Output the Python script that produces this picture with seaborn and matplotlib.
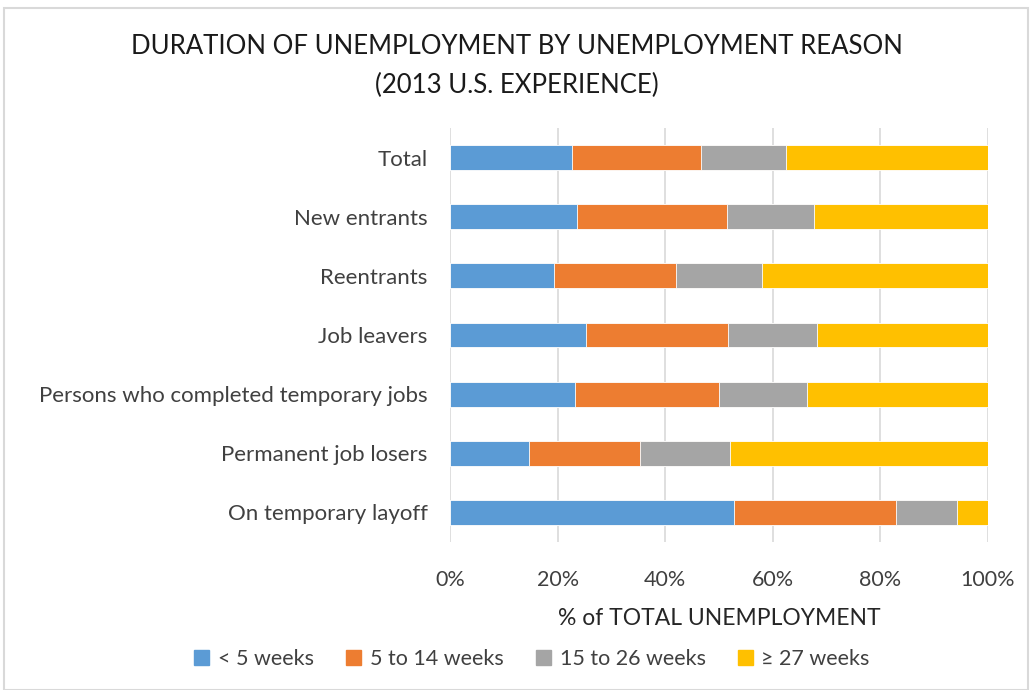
import matplotlib
matplotlib.use("Agg")
import matplotlib.pyplot as plt
import matplotlib.patches as mpatches
from matplotlib.ticker import FuncFormatter
import seaborn as sns
import pandas as pd
import numpy as np

# Reasons for unemployment (top to bottom)
reasons = [
    "Total",
    "New entrants",
    "Reentrants",
    "Job leavers",
    "Persons who completed temporary jobs",
    "Permanent job losers",
    "On temporary layoff",
]

# Share of unemployed (%) by duration bucket
under_5 = [22.6, 23.6, 19.4, 25.3, 23.3, 14.7, 52.7]
w5_14 = [24.0, 27.9, 22.7, 26.4, 26.7, 20.6, 30.2]
w15_26 = [15.9, 16.1, 15.8, 16.6, 16.4, 16.7, 11.4]
w27_plus = [37.5, 32.4, 42.1, 31.7, 33.6, 48.0, 5.7]

series_names = ["< 5 weeks", "5 to 14 weeks", "15 to 26 weeks", "\u2265 27 weeks"]
colors = ["#5B9BD5", "#ED7D31", "#A5A5A5", "#FFC000"]

sns.set_theme(style="white")
plt.rcParams["font.family"] = ["Lato", "DejaVu Sans"]

df = pd.DataFrame(
    {"reason": reasons, series_names[0]: under_5, series_names[1]: w5_14,
     series_names[2]: w15_26, series_names[3]: w27_plus}
)
cum = df[series_names].cumsum(axis=1)

fig = plt.figure(figsize=(10.34, 6.9), dpi=100)
ax = fig.add_axes([450 / 1034, 1 - 542 / 690, 538 / 1034, 414 / 690])

# Stacked bars: draw cumulative totals from the outermost segment inward
for name, color in reversed(list(zip(series_names, colors))):
    sns.barplot(x=cum[name], y=df["reason"], color=color, width=0.42,
                orient="h", ax=ax, saturation=1, edgecolor="white", linewidth=0.6)

ax.set_xlim(0, 100)
ax.set_xticks([0, 20, 40, 60, 80, 100])
ax.xaxis.set_major_formatter(FuncFormatter(lambda v, p: f"{int(v)}%"))
ax.grid(axis="x", color="#D9D9D9", linewidth=1.2)
ax.set_axisbelow(True)
for s in ax.spines.values():
    s.set_visible(False)
ax.tick_params(axis="y", length=0, labelsize=16, colors="#404040", pad=16)
ax.tick_params(axis="x", length=0, labelsize=15.5, colors="#404040", pad=20)
ax.set_ylabel("")
ax.set_xlabel("% of TOTAL UNEMPLOYMENT", fontsize=16.5, color="#262626", labelpad=13)

fig.text(0.5, 1 - 47 / 690, "DURATION OF UNEMPLOYMENT BY UNEMPLOYMENT REASON",
         ha="center", va="center", fontsize=18.5, color="#1a1a1a")
fig.text(0.5, 1 - 85 / 690, "(2013 U.S. EXPERIENCE)",
         ha="center", va="center", fontsize=18.5, color="#1a1a1a")

handles = [mpatches.Patch(color=c, label=n) for n, c in zip(series_names, colors)]
fig.legend(handles=handles, loc="center", bbox_to_anchor=(532 / 1034, 1 - 659 / 690),
           ncol=4, frameon=False, fontsize=15.5, handlelength=0.7, handleheight=0.7,
           handletextpad=0.4, columnspacing=1.5, labelcolor="#404040")

# Light chart-area border
fig.patches.append(mpatches.Rectangle((4 / 1034, 0), 1024 / 1034, 1 - 8 / 690,
                                      transform=fig.transFigure, fill=False,
                                      edgecolor="#D9D9D9", linewidth=1.5))

fig.savefig("out.png", dpi=100)
